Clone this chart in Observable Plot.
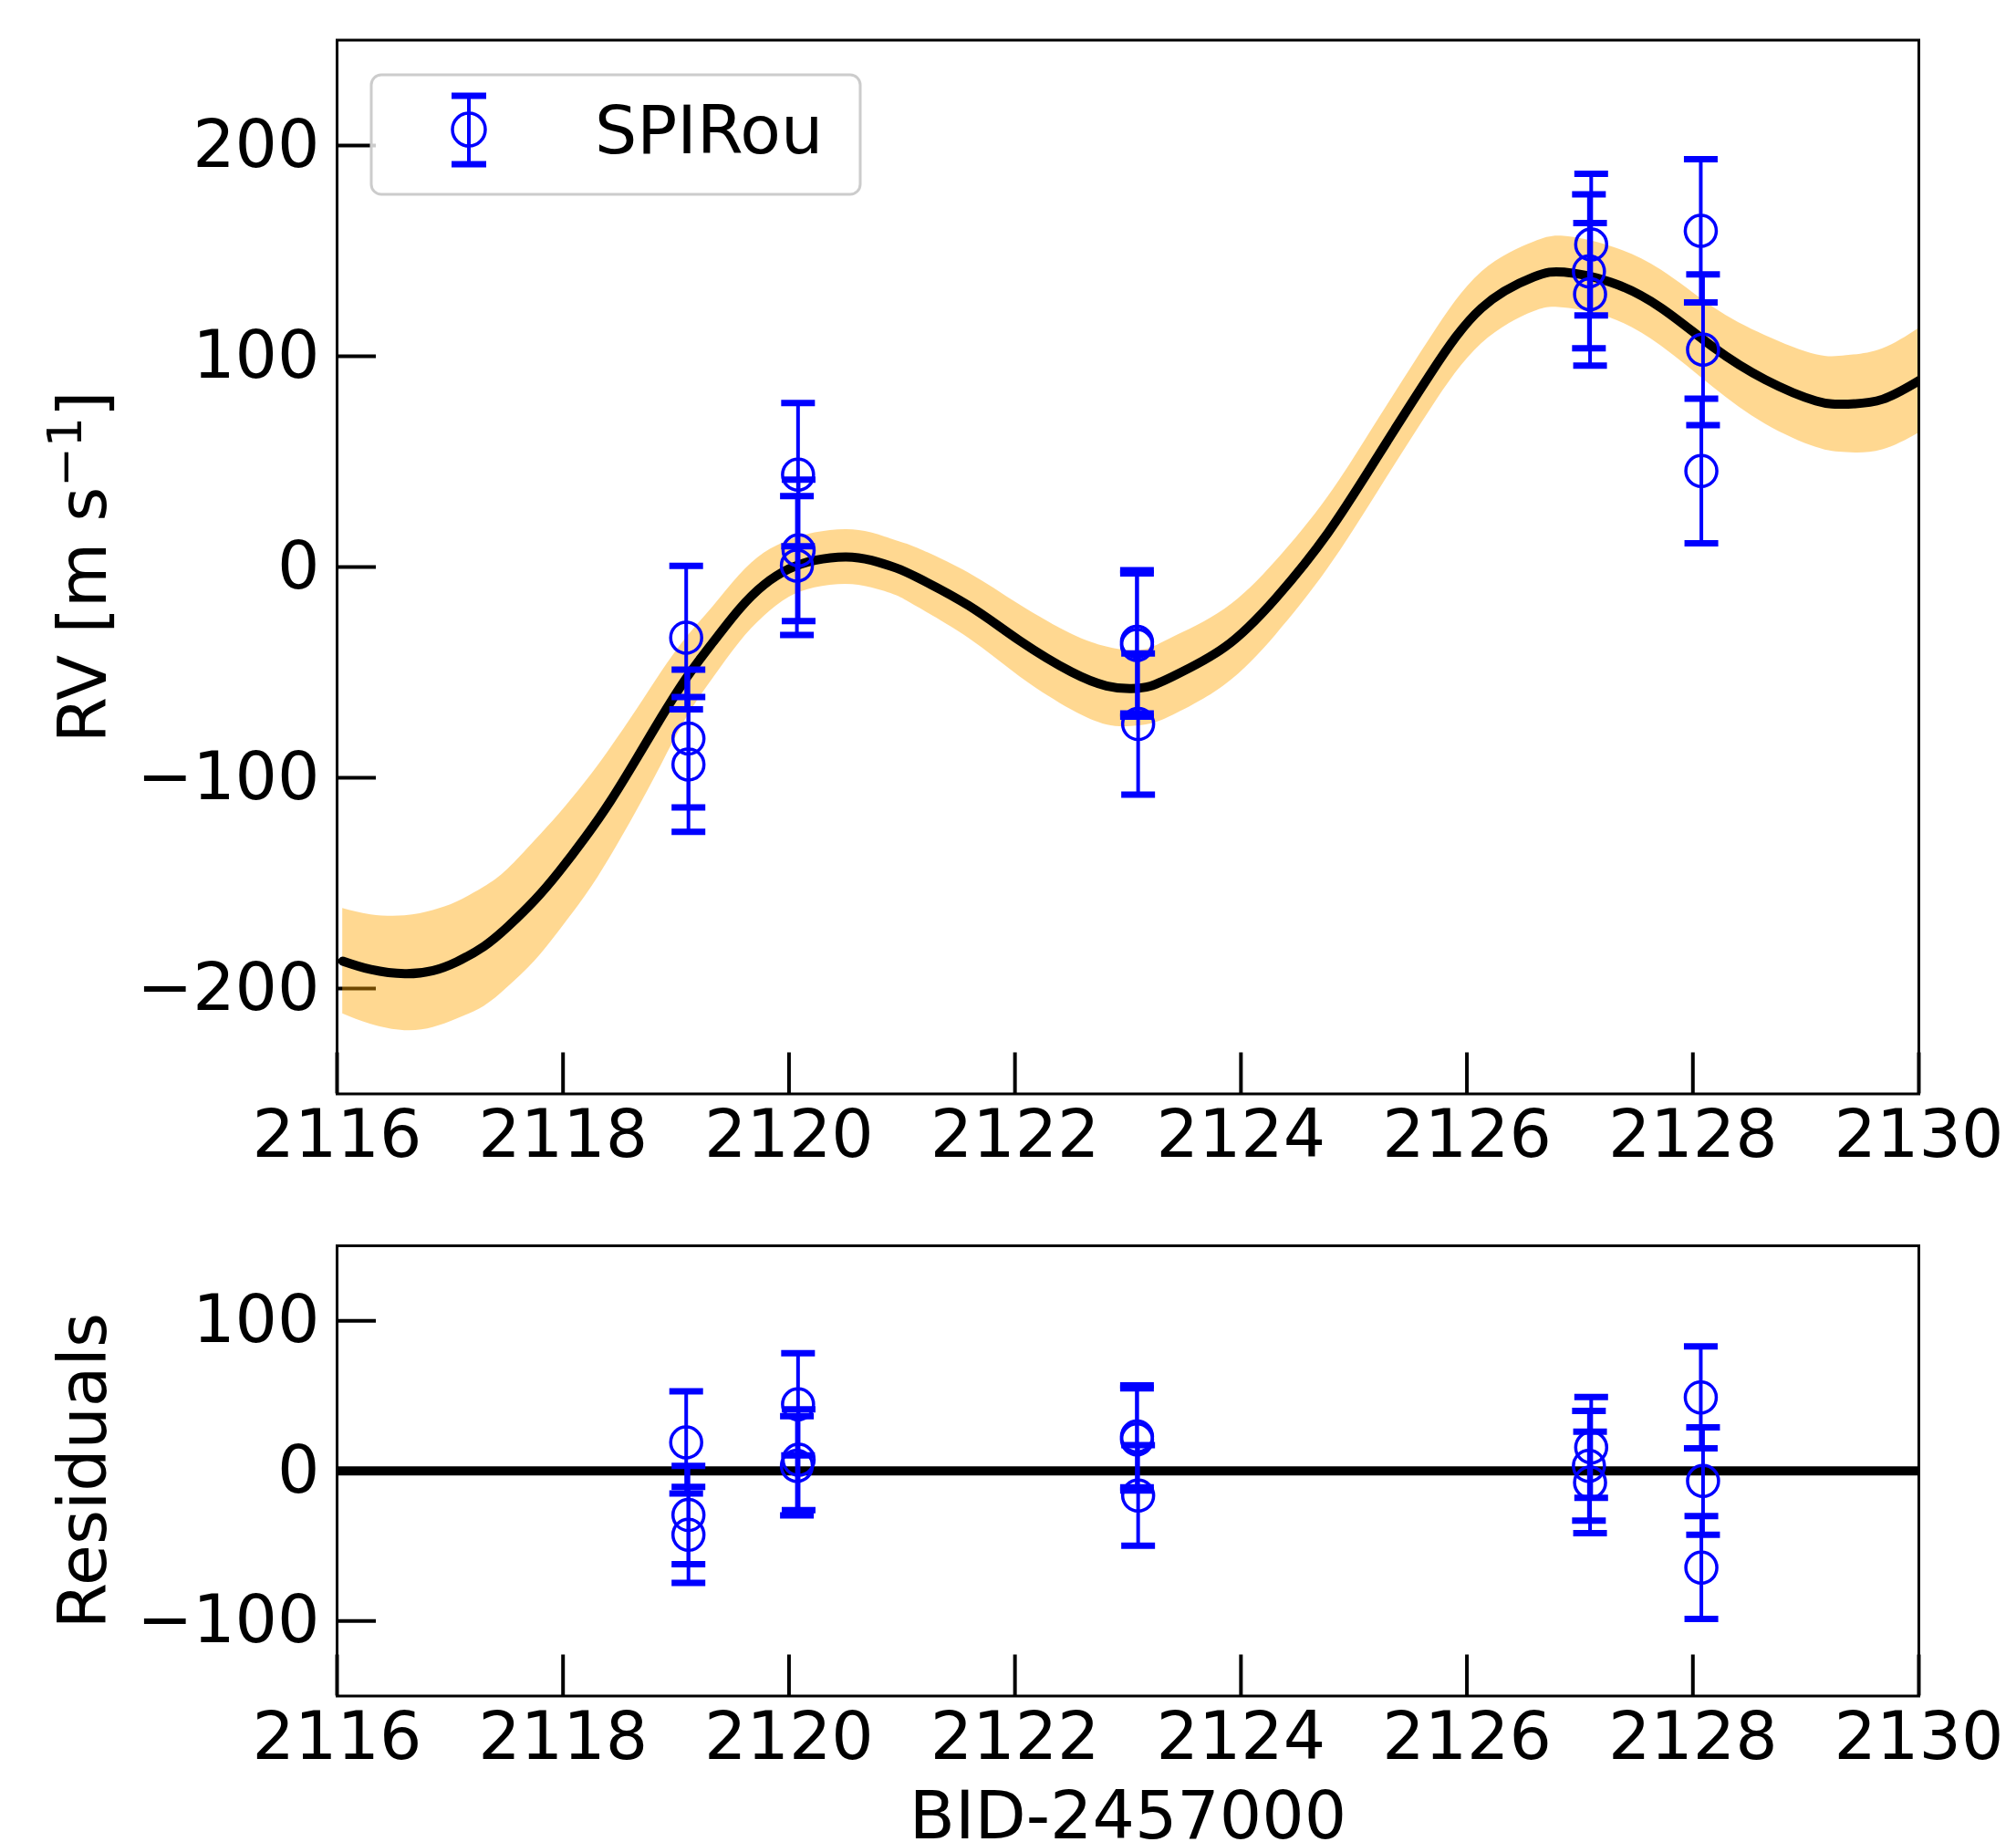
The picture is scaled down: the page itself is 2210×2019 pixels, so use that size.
<!DOCTYPE html>
<html>
<head>
<meta charset="utf-8">
<script src="https://cdn.jsdelivr.net/npm/d3@7"></script>
<script src="https://cdn.jsdelivr.net/npm/@observablehq/plot@0.6"></script>
<style>
  html, body { margin: 0; padding: 0; background: white; }
  #wrap { position: relative; width: 2210px; height: 2019px; overflow: hidden; background: white; }
</style>
</head>
<body>
<div id="wrap"></div>
<script>
// ---- data ----
const xTicks = [2116, 2118, 2120, 2122, 2124, 2126, 2128, 2130];
const rvTicks = [-200, -100, 0, 100, 200];
const resTicks = [-100, 0, 100];
const seriesName = "SPIRou";

const obsTime = [2119.09, 2119.11, 2119.11, 2120.08, 2120.085, 2120.07, 2123.08, 2123.08, 2123.09, 2127.10, 2127.08, 2127.09, 2128.07, 2128.09, 2128.075];
const obsRV   = [-33.5, -81.4, -93.7, 43.8, 7.9, 0.7, -35.5, -37, -74.5, 153, 140.3, 129.4, 159.5, 103.1, 45.6];
const obsErr  = [34, 32.7, 32, 34, 33.6, 33, 34, 34, 33.5, 33.6, 36.5, 33.8, 34, 35.8, 34.3];
const obsRes  = [19, -29.4, -42.6, 44.4, 7.5, 3.4, 23, 21, -16.4, 15.6, 3.4, -7.7, 49, -6.7, -64.4];

const modelTime = [2116.05, 2116.3, 2116.6, 2116.85, 2117.06, 2117.3, 2117.51, 2117.75, 2117.97, 2118.2, 2118.42, 2118.65, 2118.87, 2119.1, 2119.33, 2119.56, 2119.78, 2120.0, 2120.23, 2120.5, 2120.73, 2120.95, 2121.14, 2121.59, 2122.04, 2122.5, 2122.81, 2123.03, 2123.2, 2123.4, 2123.86, 2124.31, 2124.77, 2125.22, 2125.68, 2126.13, 2126.59, 2126.86, 2127.27, 2127.72, 2128.18, 2128.64, 2129.09, 2129.36, 2129.68, 2130.05];
const modelRV   = [-187, -191, -193, -191.5, -187.3, -180, -170.7, -158, -144.2, -128, -111, -91, -71.3, -52, -35.5, -20, -8.4, -0.9, 3.2, 4.8, 3.2, -0.5, -5.1, -18.3, -34.9, -49.8, -56.4, -57.7, -56.5, -51.8, -37.9, -14.7, 16.2, 53.3, 91.9, 122.9, 137.6, 139.9, 135.2, 122.9, 104.3, 88.9, 78.8, 77.3, 79.6, 90];
const modelLo   = [-212, -217, -220, -218.5, -214.5, -208.5, -199.5, -187, -172.5, -156, -137.5, -116, -94, -71, -52.7, -36, -23.4, -14.4, -9.8, -8.2, -9.8, -13.5, -19.1, -33.8, -51.9, -67.8, -74.9, -75.7, -74.5, -70.3, -55.9, -32.2, -0.8, 36.3, 74.9, 105.9, 121.1, 122.9, 118.2, 104.9, 85.3, 67.9, 56.8, 54.3, 55.6, 65];
const modelHi   = [-162, -165, -165.5, -163, -159, -152, -143.5, -130, -117, -102, -86, -68, -50, -33, -18.7, -4, 6.6, 12.6, 16.2, 17.8, 16.2, 12.5, 8.9, -2.8, -17.9, -31.8, -37.9, -39.7, -38.5, -33.3, -19.9, 2.8, 33.2, 70.3, 108.9, 139.9, 154.1, 156.9, 152.2, 140.9, 123.3, 109.9, 100.8, 100.3, 103.6, 115];
const zeroLine = [0];

// ---- tables built from the arrays ----
const obs = obsTime.map((t, i) => ({t, rv: obsRV[i], err: obsErr[i], res: obsRes[i]}));
const model = modelTime.map((t, i) => ({t, v: modelRV[i], lo: modelLo[i], hi: modelHi[i]}));

const FONT = "DejaVu Sans";
const FS = 73;
const fmt = d => (d < 0 ? "\u2212" + Math.abs(d) : String(d));
const capSymbol = {
  draw(context, size) {
    const r = Math.sqrt(size / Math.PI);
    context.moveTo(-r, 0);
    context.lineTo(r, 0);
  }
};

function axes(yTicks) {
  return [
    Plot.axisX(xTicks, {anchor: "bottom", tickSize: -45, tickPadding: 45 + 17, strokeWidth: 4,
      fontSize: FS, tickFormat: d => String(d), label: null, fill: "black"}),
    Plot.axisY(yTicks, {anchor: "left", tickSize: -43, tickPadding: 43 + 19, strokeWidth: 4,
      fontSize: FS, tickFormat: fmt, label: null, fill: "black"})
  ];
}

function errMarks(yKey) {
  const lo = d => d[yKey] - d.err;
  const hi = d => d[yKey] + d.err;
  return [
    Plot.ruleX(obs, {x: "t", y1: lo, y2: hi, stroke: "blue", strokeWidth: 4}),
    Plot.dot(obs, {x: "t", y: lo, r: 18.5, symbol: capSymbol, stroke: "blue", strokeWidth: 7, fill: "none"}),
    Plot.dot(obs, {x: "t", y: hi, r: 18.5, symbol: capSymbol, stroke: "blue", strokeWidth: 7, fill: "none"}),
    Plot.dot(obs, {x: "t", y: yKey, r: 17, stroke: "blue", strokeWidth: 3.5, fill: "none"})
  ];
}

const common = {
  width: 2210,
  marginLeft: 369,
  marginRight: 107,
  style: {fontFamily: FONT, fontSize: FS + "px", background: "white", color: "black"},
  x: {domain: [2116, 2130]}
};

const RV_LABEL = "RV [m s\u22121]";

const topPlot = Plot.plot({
  ...common,
  height: 1300,
  marginTop: 43.5,
  marginBottom: 101.5,
  y: {domain: [-250, 250]},
  marks: [
    ...axes(rvTicks),
    Plot.areaY(model, {x: "t", y1: "lo", y2: "hi", fill: "orange", fillOpacity: 0.43, curve: "natural", clip: true}),
    Plot.line(model, {x: "t", y: "v", stroke: "black", strokeWidth: 10, curve: "natural", clip: true}),
    ...errMarks("rv"),
    Plot.text([RV_LABEL], {text: d => d, frameAnchor: "left", dx: -277, rotate: -90,
      textAnchor: "middle", lineAnchor: "middle", fontSize: FS, fill: "black"}),
    Plot.frame({stroke: "black", strokeWidth: 3})
  ]
});

const botPlot = Plot.plot({
  ...common,
  height: 719,
  marginTop: 65,
  marginBottom: 160.5,
  y: {domain: [-150, 150]},
  marks: [
    ...axes(resTicks),
    Plot.ruleY(zeroLine, {y: d => d, stroke: "black", strokeWidth: 10}),
    ...errMarks("res"),
    Plot.text(["Residuals"], {text: d => d, frameAnchor: "left", dx: -277, rotate: -90,
      textAnchor: "middle", lineAnchor: "middle", fontSize: FS, fill: "black"}),
    Plot.text(["BID-2457000"], {text: d => d, frameAnchor: "bottom", dy: 104.5,
      textAnchor: "middle", lineAnchor: "top", fontSize: FS, fill: "black"}),
    Plot.frame({stroke: "black", strokeWidth: 3})
  ]
});

// superscript for the unit exponent
topPlot.querySelectorAll("text").forEach(el => {
  if (el.textContent === RV_LABEL) {
    el.textContent = "";
    const ns0 = "http://www.w3.org/2000/svg";
    const a = document.createElementNS(ns0, "tspan"); a.textContent = "RV [m s";
    const b = document.createElementNS(ns0, "tspan"); b.textContent = "\u22121";
    b.setAttribute("dy", "-27"); b.setAttribute("font-size", "52");
    const c = document.createElementNS(ns0, "tspan"); c.textContent = "]";
    c.setAttribute("dy", "27");
    el.append(a, b, c);
  }
});

const wrap = document.getElementById("wrap");
for (const [svg, top] of [[topPlot, 0], [botPlot, 1300]]) {
  svg.style.position = "absolute";
  svg.style.left = "0px";
  svg.style.top = top + "px";
  wrap.appendChild(svg);
}

// legend (inside the upper panel, top-left)
const ns = "http://www.w3.org/2000/svg";
const lg = document.createElementNS(ns, "svg");
lg.setAttribute("width", "560");
lg.setAttribute("height", "150");
lg.style.position = "absolute";
lg.style.left = "400px";
lg.style.top = "75px";
lg.innerHTML = `
  <rect x="7" y="7" width="536" height="131" rx="11" ry="11" fill="white" fill-opacity="0.8" stroke="#cccccc" stroke-width="3"/>
  <line x1="114" y1="30" x2="114" y2="105" stroke="blue" stroke-width="4"/>
  <line x1="95" y1="30" x2="133" y2="30" stroke="blue" stroke-width="7"/>
  <line x1="95" y1="105" x2="133" y2="105" stroke="blue" stroke-width="7"/>
  <circle cx="114" cy="67" r="18" fill="none" stroke="blue" stroke-width="3.5"/>
  <text x="252" y="93" font-family="${FONT}" font-size="${FS}" fill="black">${seriesName}</text>`;
wrap.appendChild(lg);
</script>
</body>
</html>
